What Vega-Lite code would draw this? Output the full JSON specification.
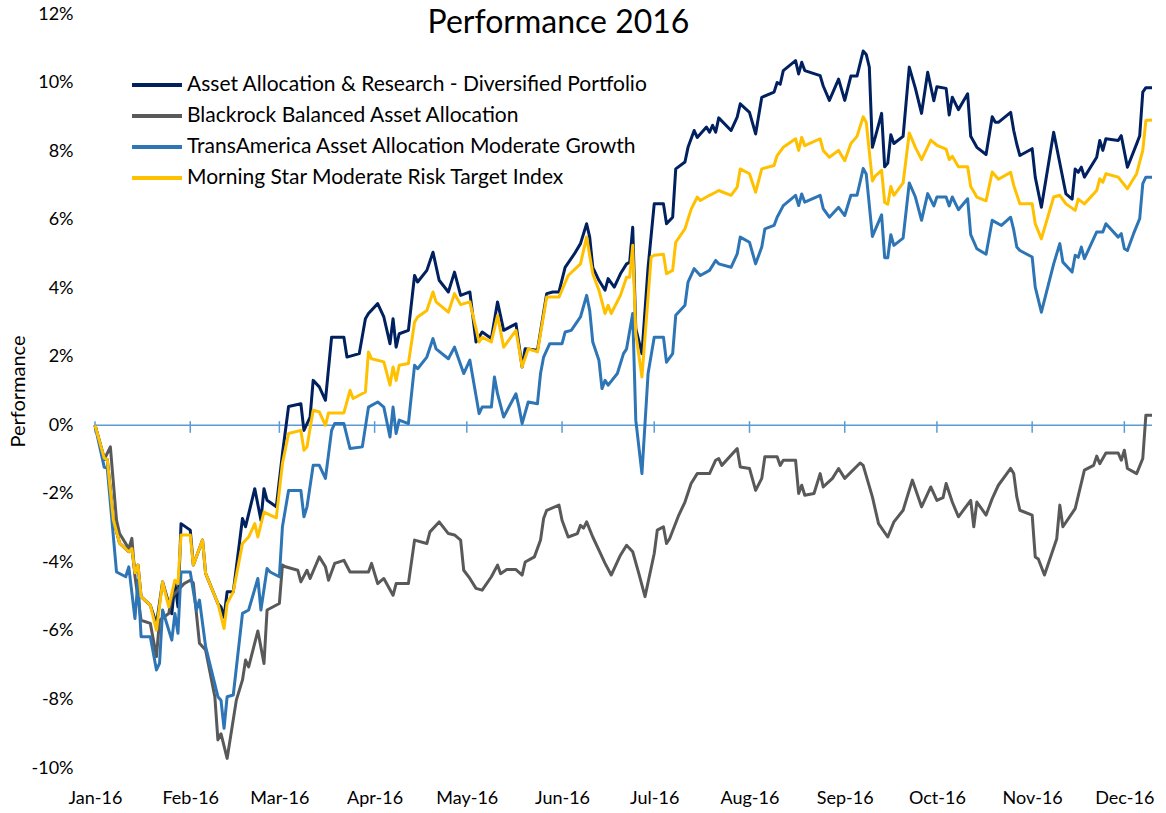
{
  "$schema": "https://vega.github.io/schema/vega-lite/v6.json",
  "width": 1057,
  "height": 754,
  "autosize": {"type": "none"},
  "padding": {"left": 95, "top": 14, "right": 14, "bottom": 45},
  "background": "white",
  "config": {"font": "Lato", "view": {"stroke": null}},
  "title": {"text": "Performance 2016", "fontSize": 32, "font": "Lato", "fontWeight": "normal", "color": "#000000", "anchor": "middle", "dx": -65, "offset": 0, "dy": 60, "baseline": "alphabetic"},
  "layer": [
    {
      "data": {"values": [{}]},
      "mark": {"type": "rule", "color": "#5B9BD5", "strokeWidth": 1.5},
      "encoding": {"y": {"datum": 0, "type": "quantitative"}}
    },
    {
      "data": {"values": [
        {"m": "2016-01-01"}, {"m": "2016-02-01"}, {"m": "2016-03-01"}, {"m": "2016-04-01"},
        {"m": "2016-05-01"}, {"m": "2016-06-01"}, {"m": "2016-07-01"}, {"m": "2016-08-01"},
        {"m": "2016-09-01"}, {"m": "2016-10-01"}, {"m": "2016-11-01"}, {"m": "2016-12-01"}
      ]},
      "mark": {"type": "rule", "color": "#5B9BD5", "strokeWidth": 1.5},
      "encoding": {
        "x": {"field": "m", "type": "temporal"},
        "y": {"datum": 0.12, "type": "quantitative"},
        "y2": {"datum": -0.22}
      }
    },
    {
      "data": {"values": [
{"s":"A","d":"2016-01-01","v":0},{"s":"A","d":"2016-01-04","v":-0.96},{"s":"A","d":"2016-01-05","v":-1.0},{"s":"A","d":"2016-01-07","v":-2.77},{"s":"A","d":"2016-01-09","v":-3.44},{"s":"A","d":"2016-01-12","v":-3.69},{"s":"A","d":"2016-01-13","v":-3.6},{"s":"A","d":"2016-01-14","v":-4.3},{"s":"A","d":"2016-01-15","v":-4.08},{"s":"A","d":"2016-01-16","v":-5.0},{"s":"A","d":"2016-01-19","v":-5.25},{"s":"A","d":"2016-01-21","v":-5.8},{"s":"A","d":"2016-01-23","v":-4.57},{"s":"A","d":"2016-01-25","v":-5.2},{"s":"A","d":"2016-01-26","v":-5.5},{"s":"A","d":"2016-01-27","v":-4.6},{"s":"A","d":"2016-01-28","v":-5.3},{"s":"A","d":"2016-01-29","v":-2.87},{"s":"A","d":"2016-02-01","v":-3.06},{"s":"A","d":"2016-02-02","v":-4.08},{"s":"A","d":"2016-02-05","v":-3.35},{"s":"A","d":"2016-02-06","v":-4.32},{"s":"A","d":"2016-02-10","v":-5.2},{"s":"A","d":"2016-02-11","v":-5.3},{"s":"A","d":"2016-02-12","v":-5.6},{"s":"A","d":"2016-02-13","v":-4.86},{"s":"A","d":"2016-02-15","v":-4.86},{"s":"A","d":"2016-02-18","v":-2.72},{"s":"A","d":"2016-02-19","v":-2.96},{"s":"A","d":"2016-02-22","v":-1.85},{"s":"A","d":"2016-02-24","v":-2.77},{"s":"A","d":"2016-02-25","v":-1.85},{"s":"A","d":"2016-02-26","v":-2.19},{"s":"A","d":"2016-02-29","v":-2.38},{"s":"A","d":"2016-03-02","v":-0.83},{"s":"A","d":"2016-03-04","v":0.55},{"s":"A","d":"2016-03-08","v":0.63},{"s":"A","d":"2016-03-09","v":-0.15},{"s":"A","d":"2016-03-11","v":0.24},{"s":"A","d":"2016-03-12","v":1.31},{"s":"A","d":"2016-03-14","v":1.12},{"s":"A","d":"2016-03-16","v":0.73},{"s":"A","d":"2016-03-18","v":2.57},{"s":"A","d":"2016-03-22","v":2.57},{"s":"A","d":"2016-03-23","v":1.99},{"s":"A","d":"2016-03-27","v":2.09},{"s":"A","d":"2016-03-29","v":3.11},{"s":"A","d":"2016-03-30","v":3.26},{"s":"A","d":"2016-04-02","v":3.55},{"s":"A","d":"2016-04-04","v":3.16},{"s":"A","d":"2016-04-06","v":2.38},{"s":"A","d":"2016-04-07","v":3.11},{"s":"A","d":"2016-04-08","v":2.28},{"s":"A","d":"2016-04-09","v":2.67},{"s":"A","d":"2016-04-12","v":2.77},{"s":"A","d":"2016-04-14","v":4.37},{"s":"A","d":"2016-04-15","v":4.18},{"s":"A","d":"2016-04-18","v":4.52},{"s":"A","d":"2016-04-20","v":5.05},{"s":"A","d":"2016-04-22","v":4.23},{"s":"A","d":"2016-04-25","v":3.89},{"s":"A","d":"2016-04-27","v":4.47},{"s":"A","d":"2016-04-29","v":3.79},{"s":"A","d":"2016-05-02","v":3.89},{"s":"A","d":"2016-05-04","v":2.43},{"s":"A","d":"2016-05-06","v":2.72},{"s":"A","d":"2016-05-09","v":2.53},{"s":"A","d":"2016-05-11","v":3.6},{"s":"A","d":"2016-05-13","v":2.77},{"s":"A","d":"2016-05-17","v":2.96},{"s":"A","d":"2016-05-19","v":1.7},{"s":"A","d":"2016-05-20","v":2.23},{"s":"A","d":"2016-05-24","v":2.19},{"s":"A","d":"2016-05-27","v":3.84},{"s":"A","d":"2016-05-29","v":3.89},{"s":"A","d":"2016-05-31","v":3.89},{"s":"A","d":"2016-06-02","v":4.61},{"s":"A","d":"2016-06-05","v":5.0},{"s":"A","d":"2016-06-07","v":5.3},{"s":"A","d":"2016-06-09","v":5.88},{"s":"A","d":"2016-06-10","v":5.49},{"s":"A","d":"2016-06-11","v":4.61},{"s":"A","d":"2016-06-13","v":4.23},{"s":"A","d":"2016-06-15","v":3.94},{"s":"A","d":"2016-06-16","v":4.28},{"s":"A","d":"2016-06-18","v":4.03},{"s":"A","d":"2016-06-20","v":4.42},{"s":"A","d":"2016-06-22","v":4.71},{"s":"A","d":"2016-06-23","v":4.75},{"s":"A","d":"2016-06-24","v":5.78},{"s":"A","d":"2016-06-25","v":2.82},{"s":"A","d":"2016-06-27","v":2.09},{"s":"A","d":"2016-06-29","v":4.61},{"s":"A","d":"2016-07-01","v":6.46},{"s":"A","d":"2016-07-04","v":6.46},{"s":"A","d":"2016-07-05","v":5.88},{"s":"A","d":"2016-07-07","v":6.07},{"s":"A","d":"2016-07-08","v":7.48},{"s":"A","d":"2016-07-11","v":7.68},{"s":"A","d":"2016-07-12","v":8.11},{"s":"A","d":"2016-07-14","v":8.6},{"s":"A","d":"2016-07-15","v":8.4},{"s":"A","d":"2016-07-18","v":8.7},{"s":"A","d":"2016-07-19","v":8.55},{"s":"A","d":"2016-07-20","v":8.75},{"s":"A","d":"2016-07-21","v":8.55},{"s":"A","d":"2016-07-22","v":8.97},{"s":"A","d":"2016-07-26","v":8.6},{"s":"A","d":"2016-07-28","v":8.99},{"s":"A","d":"2016-07-29","v":9.38},{"s":"A","d":"2016-08-01","v":9.13},{"s":"A","d":"2016-08-03","v":8.5},{"s":"A","d":"2016-08-05","v":9.57},{"s":"A","d":"2016-08-09","v":9.72},{"s":"A","d":"2016-08-10","v":10.0},{"s":"A","d":"2016-08-11","v":9.95},{"s":"A","d":"2016-08-12","v":10.35},{"s":"A","d":"2016-08-16","v":10.64},{"s":"A","d":"2016-08-17","v":10.25},{"s":"A","d":"2016-08-18","v":10.59},{"s":"A","d":"2016-08-19","v":10.35},{"s":"A","d":"2016-08-24","v":10.2},{"s":"A","d":"2016-08-25","v":9.9},{"s":"A","d":"2016-08-27","v":9.48},{"s":"A","d":"2016-08-30","v":10.1},{"s":"A","d":"2016-09-01","v":9.48},{"s":"A","d":"2016-09-03","v":10.19},{"s":"A","d":"2016-09-05","v":10.19},{"s":"A","d":"2016-09-07","v":10.92},{"s":"A","d":"2016-09-08","v":10.82},{"s":"A","d":"2016-09-09","v":10.45},{"s":"A","d":"2016-09-10","v":8.11},{"s":"A","d":"2016-09-11","v":8.43},{"s":"A","d":"2016-09-13","v":9.1},{"s":"A","d":"2016-09-14","v":7.54},{"s":"A","d":"2016-09-15","v":7.65},{"s":"A","d":"2016-09-16","v":8.48},{"s":"A","d":"2016-09-17","v":8.22},{"s":"A","d":"2016-09-20","v":8.43},{"s":"A","d":"2016-09-22","v":10.45},{"s":"A","d":"2016-09-24","v":9.83},{"s":"A","d":"2016-09-26","v":9.1},{"s":"A","d":"2016-09-28","v":10.3},{"s":"A","d":"2016-09-30","v":9.47},{"s":"A","d":"2016-10-01","v":9.88},{"s":"A","d":"2016-10-04","v":9.83},{"s":"A","d":"2016-10-05","v":9.05},{"s":"A","d":"2016-10-06","v":9.57},{"s":"A","d":"2016-10-08","v":9.21},{"s":"A","d":"2016-10-11","v":9.67},{"s":"A","d":"2016-10-12","v":8.43},{"s":"A","d":"2016-10-14","v":8.11},{"s":"A","d":"2016-10-17","v":7.9},{"s":"A","d":"2016-10-19","v":9.0},{"s":"A","d":"2016-10-20","v":8.84},{"s":"A","d":"2016-10-21","v":8.84},{"s":"A","d":"2016-10-25","v":9.13},{"s":"A","d":"2016-10-26","v":8.6},{"s":"A","d":"2016-10-27","v":8.2},{"s":"A","d":"2016-10-28","v":7.87},{"s":"A","d":"2016-11-01","v":8.07},{"s":"A","d":"2016-11-02","v":7.24},{"s":"A","d":"2016-11-04","v":6.36},{"s":"A","d":"2016-11-08","v":8.55},{"s":"A","d":"2016-11-12","v":6.75},{"s":"A","d":"2016-11-14","v":6.6},{"s":"A","d":"2016-11-15","v":7.48},{"s":"A","d":"2016-11-16","v":7.38},{"s":"A","d":"2016-11-17","v":7.53},{"s":"A","d":"2016-11-18","v":7.24},{"s":"A","d":"2016-11-22","v":7.82},{"s":"A","d":"2016-11-23","v":8.31},{"s":"A","d":"2016-11-24","v":8.02},{"s":"A","d":"2016-11-25","v":8.36},{"s":"A","d":"2016-11-29","v":8.31},{"s":"A","d":"2016-11-30","v":8.45},{"s":"A","d":"2016-12-02","v":7.53},{"s":"A","d":"2016-12-05","v":8.21},{"s":"A","d":"2016-12-06","v":8.45},{"s":"A","d":"2016-12-07","v":9.72},{"s":"A","d":"2016-12-08","v":9.85},{"s":"A","d":"2016-12-10","v":9.85},
{"s":"B","d":"2016-01-01","v":0},{"s":"B","d":"2016-01-04","v":-1.0},{"s":"B","d":"2016-01-06","v":-0.63},{"s":"B","d":"2016-01-08","v":-2.77},{"s":"B","d":"2016-01-09","v":-3.16},{"s":"B","d":"2016-01-12","v":-3.6},{"s":"B","d":"2016-01-13","v":-3.3},{"s":"B","d":"2016-01-14","v":-4.4},{"s":"B","d":"2016-01-16","v":-5.69},{"s":"B","d":"2016-01-19","v":-5.78},{"s":"B","d":"2016-01-21","v":-6.75},{"s":"B","d":"2016-01-22","v":-5.69},{"s":"B","d":"2016-01-25","v":-5.49},{"s":"B","d":"2016-01-26","v":-5.0},{"s":"B","d":"2016-01-28","v":-4.81},{"s":"B","d":"2016-01-30","v":-4.62},{"s":"B","d":"2016-02-01","v":-4.52},{"s":"B","d":"2016-02-02","v":-4.6},{"s":"B","d":"2016-02-03","v":-5.49},{"s":"B","d":"2016-02-04","v":-6.36},{"s":"B","d":"2016-02-06","v":-6.56},{"s":"B","d":"2016-02-09","v":-7.92},{"s":"B","d":"2016-02-10","v":-9.18},{"s":"B","d":"2016-02-11","v":-9.0},{"s":"B","d":"2016-02-13","v":-9.72},{"s":"B","d":"2016-02-16","v":-8.02},{"s":"B","d":"2016-02-18","v":-7.43},{"s":"B","d":"2016-02-19","v":-6.85},{"s":"B","d":"2016-02-20","v":-7.05},{"s":"B","d":"2016-02-23","v":-6.0},{"s":"B","d":"2016-02-25","v":-6.95},{"s":"B","d":"2016-02-26","v":-5.39},{"s":"B","d":"2016-03-01","v":-5.2},{"s":"B","d":"2016-03-02","v":-4.08},{"s":"B","d":"2016-03-03","v":-4.13},{"s":"B","d":"2016-03-07","v":-4.23},{"s":"B","d":"2016-03-08","v":-4.57},{"s":"B","d":"2016-03-10","v":-4.23},{"s":"B","d":"2016-03-11","v":-4.47},{"s":"B","d":"2016-03-14","v":-3.84},{"s":"B","d":"2016-03-16","v":-4.13},{"s":"B","d":"2016-03-17","v":-4.52},{"s":"B","d":"2016-03-19","v":-4.03},{"s":"B","d":"2016-03-22","v":-3.94},{"s":"B","d":"2016-03-24","v":-4.28},{"s":"B","d":"2016-03-30","v":-4.28},{"s":"B","d":"2016-03-31","v":-4.03},{"s":"B","d":"2016-04-02","v":-4.62},{"s":"B","d":"2016-04-04","v":-4.47},{"s":"B","d":"2016-04-07","v":-4.96},{"s":"B","d":"2016-04-08","v":-4.62},{"s":"B","d":"2016-04-12","v":-4.62},{"s":"B","d":"2016-04-14","v":-3.35},{"s":"B","d":"2016-04-18","v":-3.45},{"s":"B","d":"2016-04-19","v":-3.11},{"s":"B","d":"2016-04-22","v":-2.82},{"s":"B","d":"2016-04-25","v":-3.16},{"s":"B","d":"2016-04-27","v":-3.2},{"s":"B","d":"2016-04-29","v":-3.35},{"s":"B","d":"2016-04-30","v":-4.23},{"s":"B","d":"2016-05-02","v":-4.47},{"s":"B","d":"2016-05-04","v":-4.76},{"s":"B","d":"2016-05-06","v":-4.81},{"s":"B","d":"2016-05-09","v":-4.42},{"s":"B","d":"2016-05-11","v":-4.08},{"s":"B","d":"2016-05-12","v":-4.33},{"s":"B","d":"2016-05-14","v":-4.21},{"s":"B","d":"2016-05-17","v":-4.21},{"s":"B","d":"2016-05-19","v":-4.37},{"s":"B","d":"2016-05-20","v":-3.99},{"s":"B","d":"2016-05-23","v":-3.84},{"s":"B","d":"2016-05-25","v":-3.35},{"s":"B","d":"2016-05-26","v":-2.72},{"s":"B","d":"2016-05-27","v":-2.48},{"s":"B","d":"2016-05-31","v":-2.33},{"s":"B","d":"2016-06-01","v":-2.77},{"s":"B","d":"2016-06-03","v":-3.26},{"s":"B","d":"2016-06-06","v":-3.16},{"s":"B","d":"2016-06-07","v":-2.92},{"s":"B","d":"2016-06-08","v":-3.0},{"s":"B","d":"2016-06-09","v":-2.82},{"s":"B","d":"2016-06-11","v":-3.26},{"s":"B","d":"2016-06-13","v":-3.64},{"s":"B","d":"2016-06-15","v":-4.03},{"s":"B","d":"2016-06-17","v":-4.37},{"s":"B","d":"2016-06-20","v":-3.79},{"s":"B","d":"2016-06-22","v":-3.5},{"s":"B","d":"2016-06-24","v":-3.69},{"s":"B","d":"2016-06-26","v":-4.33},{"s":"B","d":"2016-06-28","v":-5.0},{"s":"B","d":"2016-07-01","v":-3.74},{"s":"B","d":"2016-07-02","v":-3.06},{"s":"B","d":"2016-07-04","v":-2.96},{"s":"B","d":"2016-07-05","v":-3.45},{"s":"B","d":"2016-07-06","v":-3.31},{"s":"B","d":"2016-07-09","v":-2.62},{"s":"B","d":"2016-07-11","v":-2.24},{"s":"B","d":"2016-07-13","v":-1.7},{"s":"B","d":"2016-07-15","v":-1.41},{"s":"B","d":"2016-07-19","v":-1.41},{"s":"B","d":"2016-07-21","v":-1.02},{"s":"B","d":"2016-07-22","v":-0.97},{"s":"B","d":"2016-07-23","v":-1.17},{"s":"B","d":"2016-07-28","v":-0.68},{"s":"B","d":"2016-07-29","v":-1.22},{"s":"B","d":"2016-08-01","v":-1.26},{"s":"B","d":"2016-08-03","v":-1.9},{"s":"B","d":"2016-08-05","v":-1.55},{"s":"B","d":"2016-08-06","v":-0.92},{"s":"B","d":"2016-08-10","v":-0.92},{"s":"B","d":"2016-08-11","v":-1.17},{"s":"B","d":"2016-08-12","v":-1.02},{"s":"B","d":"2016-08-16","v":-1.02},{"s":"B","d":"2016-08-17","v":-1.99},{"s":"B","d":"2016-08-18","v":-1.75},{"s":"B","d":"2016-08-19","v":-2.04},{"s":"B","d":"2016-08-22","v":-1.99},{"s":"B","d":"2016-08-24","v":-1.41},{"s":"B","d":"2016-08-25","v":-1.8},{"s":"B","d":"2016-08-28","v":-1.55},{"s":"B","d":"2016-08-30","v":-1.26},{"s":"B","d":"2016-09-01","v":-1.55},{"s":"B","d":"2016-09-06","v":-1.1},{"s":"B","d":"2016-09-07","v":-1.17},{"s":"B","d":"2016-09-10","v":-2.09},{"s":"B","d":"2016-09-12","v":-2.87},{"s":"B","d":"2016-09-15","v":-3.26},{"s":"B","d":"2016-09-17","v":-2.82},{"s":"B","d":"2016-09-20","v":-2.48},{"s":"B","d":"2016-09-23","v":-1.6},{"s":"B","d":"2016-09-26","v":-2.38},{"s":"B","d":"2016-09-29","v":-1.8},{"s":"B","d":"2016-10-01","v":-2.19},{"s":"B","d":"2016-10-03","v":-2.11},{"s":"B","d":"2016-10-04","v":-1.7},{"s":"B","d":"2016-10-06","v":-2.24},{"s":"B","d":"2016-10-08","v":-2.67},{"s":"B","d":"2016-10-12","v":-2.19},{"s":"B","d":"2016-10-13","v":-2.96},{"s":"B","d":"2016-10-14","v":-2.24},{"s":"B","d":"2016-10-17","v":-2.62},{"s":"B","d":"2016-10-19","v":-2.14},{"s":"B","d":"2016-10-21","v":-1.75},{"s":"B","d":"2016-10-25","v":-1.26},{"s":"B","d":"2016-10-26","v":-1.41},{"s":"B","d":"2016-10-27","v":-2.09},{"s":"B","d":"2016-10-28","v":-2.48},{"s":"B","d":"2016-11-01","v":-2.62},{"s":"B","d":"2016-11-02","v":-3.84},{"s":"B","d":"2016-11-03","v":-3.9},{"s":"B","d":"2016-11-05","v":-4.37},{"s":"B","d":"2016-11-09","v":-3.31},{"s":"B","d":"2016-11-10","v":-2.33},{"s":"B","d":"2016-11-11","v":-2.96},{"s":"B","d":"2016-11-15","v":-2.43},{"s":"B","d":"2016-11-18","v":-1.31},{"s":"B","d":"2016-11-21","v":-1.17},{"s":"B","d":"2016-11-22","v":-0.9},{"s":"B","d":"2016-11-23","v":-1.12},{"s":"B","d":"2016-11-25","v":-0.81},{"s":"B","d":"2016-11-29","v":-0.81},{"s":"B","d":"2016-11-30","v":-1.02},{"s":"B","d":"2016-12-01","v":-0.73},{"s":"B","d":"2016-12-02","v":-1.26},{"s":"B","d":"2016-12-05","v":-1.41},{"s":"B","d":"2016-12-07","v":-0.97},{"s":"B","d":"2016-12-08","v":0.29},{"s":"B","d":"2016-12-10","v":0.29},
{"s":"C","d":"2016-01-01","v":0},{"s":"C","d":"2016-01-04","v":-1.22},{"s":"C","d":"2016-01-05","v":-1.26},{"s":"C","d":"2016-01-08","v":-4.28},{"s":"C","d":"2016-01-11","v":-4.42},{"s":"C","d":"2016-01-12","v":-4.13},{"s":"C","d":"2016-01-14","v":-5.64},{"s":"C","d":"2016-01-15","v":-4.52},{"s":"C","d":"2016-01-16","v":-6.17},{"s":"C","d":"2016-01-19","v":-6.17},{"s":"C","d":"2016-01-21","v":-7.14},{"s":"C","d":"2016-01-22","v":-6.95},{"s":"C","d":"2016-01-23","v":-5.39},{"s":"C","d":"2016-01-26","v":-6.27},{"s":"C","d":"2016-01-27","v":-5.49},{"s":"C","d":"2016-01-28","v":-6.07},{"s":"C","d":"2016-01-29","v":-4.28},{"s":"C","d":"2016-02-01","v":-4.28},{"s":"C","d":"2016-02-03","v":-5.39},{"s":"C","d":"2016-02-04","v":-5.1},{"s":"C","d":"2016-02-06","v":-6.46},{"s":"C","d":"2016-02-10","v":-7.92},{"s":"C","d":"2016-02-11","v":-8.02},{"s":"C","d":"2016-02-12","v":-8.84},{"s":"C","d":"2016-02-13","v":-7.92},{"s":"C","d":"2016-02-15","v":-7.87},{"s":"C","d":"2016-02-18","v":-5.49},{"s":"C","d":"2016-02-20","v":-5.39},{"s":"C","d":"2016-02-23","v":-4.47},{"s":"C","d":"2016-02-24","v":-5.39},{"s":"C","d":"2016-02-26","v":-4.18},{"s":"C","d":"2016-02-27","v":-4.28},{"s":"C","d":"2016-03-01","v":-4.42},{"s":"C","d":"2016-03-02","v":-2.96},{"s":"C","d":"2016-03-04","v":-1.9},{"s":"C","d":"2016-03-08","v":-1.9},{"s":"C","d":"2016-03-09","v":-2.67},{"s":"C","d":"2016-03-10","v":-2.38},{"s":"C","d":"2016-03-12","v":-1.17},{"s":"C","d":"2016-03-14","v":-1.17},{"s":"C","d":"2016-03-16","v":-1.55},{"s":"C","d":"2016-03-18","v":-0.15},{"s":"C","d":"2016-03-19","v":0.05},{"s":"C","d":"2016-03-22","v":0.05},{"s":"C","d":"2016-03-24","v":-0.68},{"s":"C","d":"2016-03-28","v":-0.63},{"s":"C","d":"2016-03-30","v":0.53},{"s":"C","d":"2016-04-02","v":0.68},{"s":"C","d":"2016-04-04","v":0.53},{"s":"C","d":"2016-04-06","v":-0.34},{"s":"C","d":"2016-04-07","v":0.53},{"s":"C","d":"2016-04-08","v":-0.24},{"s":"C","d":"2016-04-09","v":0.15},{"s":"C","d":"2016-04-12","v":0.05},{"s":"C","d":"2016-04-14","v":1.75},{"s":"C","d":"2016-04-15","v":1.65},{"s":"C","d":"2016-04-18","v":1.99},{"s":"C","d":"2016-04-20","v":2.53},{"s":"C","d":"2016-04-21","v":2.23},{"s":"C","d":"2016-04-25","v":1.94},{"s":"C","d":"2016-04-27","v":2.28},{"s":"C","d":"2016-04-30","v":1.51},{"s":"C","d":"2016-05-02","v":1.9},{"s":"C","d":"2016-05-05","v":0.34},{"s":"C","d":"2016-05-06","v":0.53},{"s":"C","d":"2016-05-09","v":0.53},{"s":"C","d":"2016-05-10","v":1.41},{"s":"C","d":"2016-05-11","v":0.92},{"s":"C","d":"2016-05-13","v":0.24},{"s":"C","d":"2016-05-17","v":0.92},{"s":"C","d":"2016-05-18","v":0.53},{"s":"C","d":"2016-05-19","v":0.05},{"s":"C","d":"2016-05-21","v":0.68},{"s":"C","d":"2016-05-24","v":0.63},{"s":"C","d":"2016-05-25","v":1.51},{"s":"C","d":"2016-05-26","v":1.99},{"s":"C","d":"2016-05-28","v":2.38},{"s":"C","d":"2016-06-01","v":2.38},{"s":"C","d":"2016-06-02","v":2.72},{"s":"C","d":"2016-06-04","v":2.77},{"s":"C","d":"2016-06-07","v":3.16},{"s":"C","d":"2016-06-09","v":3.79},{"s":"C","d":"2016-06-10","v":3.35},{"s":"C","d":"2016-06-11","v":2.43},{"s":"C","d":"2016-06-13","v":1.9},{"s":"C","d":"2016-06-14","v":1.07},{"s":"C","d":"2016-06-15","v":1.31},{"s":"C","d":"2016-06-16","v":1.17},{"s":"C","d":"2016-06-19","v":1.51},{"s":"C","d":"2016-06-21","v":2.09},{"s":"C","d":"2016-06-22","v":2.23},{"s":"C","d":"2016-06-24","v":3.26},{"s":"C","d":"2016-06-25","v":0.15},{"s":"C","d":"2016-06-27","v":-1.41},{"s":"C","d":"2016-06-29","v":1.51},{"s":"C","d":"2016-07-01","v":2.57},{"s":"C","d":"2016-07-04","v":2.57},{"s":"C","d":"2016-07-05","v":1.84},{"s":"C","d":"2016-07-07","v":2.09},{"s":"C","d":"2016-07-08","v":3.21},{"s":"C","d":"2016-07-11","v":3.5},{"s":"C","d":"2016-07-12","v":4.18},{"s":"C","d":"2016-07-14","v":4.57},{"s":"C","d":"2016-07-16","v":4.37},{"s":"C","d":"2016-07-19","v":4.52},{"s":"C","d":"2016-07-21","v":4.81},{"s":"C","d":"2016-07-22","v":4.71},{"s":"C","d":"2016-07-26","v":4.61},{"s":"C","d":"2016-07-28","v":5.0},{"s":"C","d":"2016-07-29","v":5.49},{"s":"C","d":"2016-08-01","v":5.34},{"s":"C","d":"2016-08-03","v":4.71},{"s":"C","d":"2016-08-05","v":5.2},{"s":"C","d":"2016-08-06","v":5.73},{"s":"C","d":"2016-08-09","v":5.83},{"s":"C","d":"2016-08-10","v":6.07},{"s":"C","d":"2016-08-12","v":6.41},{"s":"C","d":"2016-08-16","v":6.71},{"s":"C","d":"2016-08-17","v":6.41},{"s":"C","d":"2016-08-18","v":6.75},{"s":"C","d":"2016-08-19","v":6.51},{"s":"C","d":"2016-08-24","v":6.71},{"s":"C","d":"2016-08-25","v":6.32},{"s":"C","d":"2016-08-27","v":6.07},{"s":"C","d":"2016-08-30","v":6.36},{"s":"C","d":"2016-09-01","v":6.12},{"s":"C","d":"2016-09-03","v":6.71},{"s":"C","d":"2016-09-05","v":6.71},{"s":"C","d":"2016-09-07","v":7.49},{"s":"C","d":"2016-09-08","v":7.33},{"s":"C","d":"2016-09-10","v":5.51},{"s":"C","d":"2016-09-13","v":6.14},{"s":"C","d":"2016-09-14","v":4.89},{"s":"C","d":"2016-09-15","v":4.89},{"s":"C","d":"2016-09-16","v":5.56},{"s":"C","d":"2016-09-17","v":5.25},{"s":"C","d":"2016-09-20","v":5.46},{"s":"C","d":"2016-09-22","v":7.07},{"s":"C","d":"2016-09-24","v":6.66},{"s":"C","d":"2016-09-26","v":5.98},{"s":"C","d":"2016-09-28","v":6.76},{"s":"C","d":"2016-09-30","v":6.4},{"s":"C","d":"2016-10-01","v":6.66},{"s":"C","d":"2016-10-04","v":6.66},{"s":"C","d":"2016-10-05","v":6.4},{"s":"C","d":"2016-10-06","v":6.66},{"s":"C","d":"2016-10-08","v":6.29},{"s":"C","d":"2016-10-11","v":6.61},{"s":"C","d":"2016-10-12","v":5.56},{"s":"C","d":"2016-10-14","v":5.15},{"s":"C","d":"2016-10-17","v":4.99},{"s":"C","d":"2016-10-19","v":5.98},{"s":"C","d":"2016-10-22","v":5.83},{"s":"C","d":"2016-10-25","v":6.07},{"s":"C","d":"2016-10-26","v":5.7},{"s":"C","d":"2016-10-27","v":5.2},{"s":"C","d":"2016-10-28","v":5.1},{"s":"C","d":"2016-11-01","v":4.91},{"s":"C","d":"2016-11-02","v":4.03},{"s":"C","d":"2016-11-04","v":3.3},{"s":"C","d":"2016-11-08","v":4.71},{"s":"C","d":"2016-11-10","v":5.3},{"s":"C","d":"2016-11-11","v":4.76},{"s":"C","d":"2016-11-14","v":4.47},{"s":"C","d":"2016-11-15","v":4.96},{"s":"C","d":"2016-11-16","v":4.9},{"s":"C","d":"2016-11-17","v":5.2},{"s":"C","d":"2016-11-18","v":4.86},{"s":"C","d":"2016-11-22","v":5.64},{"s":"C","d":"2016-11-24","v":5.64},{"s":"C","d":"2016-11-25","v":5.88},{"s":"C","d":"2016-11-29","v":5.49},{"s":"C","d":"2016-11-30","v":5.59},{"s":"C","d":"2016-12-01","v":5.15},{"s":"C","d":"2016-12-02","v":5.1},{"s":"C","d":"2016-12-04","v":5.59},{"s":"C","d":"2016-12-06","v":6.03},{"s":"C","d":"2016-12-07","v":7.05},{"s":"C","d":"2016-12-08","v":7.24},{"s":"C","d":"2016-12-10","v":7.24},
{"s":"D","d":"2016-01-01","v":0},{"s":"D","d":"2016-01-04","v":-0.96},{"s":"D","d":"2016-01-05","v":-1.0},{"s":"D","d":"2016-01-07","v":-2.77},{"s":"D","d":"2016-01-09","v":-3.44},{"s":"D","d":"2016-01-12","v":-3.69},{"s":"D","d":"2016-01-13","v":-3.6},{"s":"D","d":"2016-01-14","v":-4.3},{"s":"D","d":"2016-01-15","v":-4.08},{"s":"D","d":"2016-01-16","v":-5.0},{"s":"D","d":"2016-01-19","v":-5.25},{"s":"D","d":"2016-01-21","v":-5.98},{"s":"D","d":"2016-01-23","v":-4.57},{"s":"D","d":"2016-01-25","v":-5.3},{"s":"D","d":"2016-01-27","v":-4.52},{"s":"D","d":"2016-01-28","v":-4.62},{"s":"D","d":"2016-01-29","v":-3.2},{"s":"D","d":"2016-02-01","v":-3.2},{"s":"D","d":"2016-02-02","v":-4.08},{"s":"D","d":"2016-02-05","v":-3.35},{"s":"D","d":"2016-02-06","v":-4.32},{"s":"D","d":"2016-02-10","v":-5.2},{"s":"D","d":"2016-02-12","v":-5.93},{"s":"D","d":"2016-02-13","v":-5.2},{"s":"D","d":"2016-02-15","v":-4.86},{"s":"D","d":"2016-02-18","v":-3.45},{"s":"D","d":"2016-02-20","v":-3.26},{"s":"D","d":"2016-02-22","v":-2.87},{"s":"D","d":"2016-02-23","v":-3.26},{"s":"D","d":"2016-02-25","v":-2.53},{"s":"D","d":"2016-02-27","v":-2.62},{"s":"D","d":"2016-02-29","v":-2.7},{"s":"D","d":"2016-03-02","v":-1.12},{"s":"D","d":"2016-03-04","v":-0.24},{"s":"D","d":"2016-03-08","v":-0.15},{"s":"D","d":"2016-03-09","v":-0.73},{"s":"D","d":"2016-03-10","v":-0.63},{"s":"D","d":"2016-03-12","v":0.44},{"s":"D","d":"2016-03-14","v":0.39},{"s":"D","d":"2016-03-16","v":0.0},{"s":"D","d":"2016-03-17","v":0.36},{"s":"D","d":"2016-03-22","v":0.36},{"s":"D","d":"2016-03-24","v":1.02},{"s":"D","d":"2016-03-25","v":0.78},{"s":"D","d":"2016-03-29","v":0.97},{"s":"D","d":"2016-03-30","v":2.14},{"s":"D","d":"2016-03-31","v":1.94},{"s":"D","d":"2016-04-04","v":1.85},{"s":"D","d":"2016-04-06","v":1.17},{"s":"D","d":"2016-04-07","v":1.7},{"s":"D","d":"2016-04-08","v":1.31},{"s":"D","d":"2016-04-09","v":1.75},{"s":"D","d":"2016-04-12","v":1.8},{"s":"D","d":"2016-04-14","v":3.01},{"s":"D","d":"2016-04-15","v":3.16},{"s":"D","d":"2016-04-18","v":3.35},{"s":"D","d":"2016-04-20","v":3.89},{"s":"D","d":"2016-04-21","v":3.6},{"s":"D","d":"2016-04-25","v":3.3},{"s":"D","d":"2016-04-27","v":3.84},{"s":"D","d":"2016-04-29","v":3.52},{"s":"D","d":"2016-05-02","v":3.6},{"s":"D","d":"2016-05-05","v":2.43},{"s":"D","d":"2016-05-06","v":2.57},{"s":"D","d":"2016-05-09","v":2.43},{"s":"D","d":"2016-05-11","v":3.2},{"s":"D","d":"2016-05-13","v":2.28},{"s":"D","d":"2016-05-17","v":2.77},{"s":"D","d":"2016-05-19","v":1.7},{"s":"D","d":"2016-05-21","v":2.23},{"s":"D","d":"2016-05-24","v":2.14},{"s":"D","d":"2016-05-27","v":3.74},{"s":"D","d":"2016-05-31","v":3.74},{"s":"D","d":"2016-06-03","v":4.37},{"s":"D","d":"2016-06-07","v":4.71},{"s":"D","d":"2016-06-09","v":5.49},{"s":"D","d":"2016-06-11","v":4.42},{"s":"D","d":"2016-06-13","v":3.94},{"s":"D","d":"2016-06-15","v":3.26},{"s":"D","d":"2016-06-16","v":3.5},{"s":"D","d":"2016-06-17","v":3.26},{"s":"D","d":"2016-06-20","v":3.79},{"s":"D","d":"2016-06-22","v":4.32},{"s":"D","d":"2016-06-23","v":4.32},{"s":"D","d":"2016-06-24","v":5.25},{"s":"D","d":"2016-06-25","v":2.67},{"s":"D","d":"2016-06-27","v":1.41},{"s":"D","d":"2016-06-30","v":4.91},{"s":"D","d":"2016-07-01","v":4.96},{"s":"D","d":"2016-07-04","v":4.99},{"s":"D","d":"2016-07-05","v":4.42},{"s":"D","d":"2016-07-07","v":4.52},{"s":"D","d":"2016-07-08","v":5.34},{"s":"D","d":"2016-07-11","v":5.73},{"s":"D","d":"2016-07-13","v":6.3},{"s":"D","d":"2016-07-15","v":6.66},{"s":"D","d":"2016-07-16","v":6.56},{"s":"D","d":"2016-07-19","v":6.71},{"s":"D","d":"2016-07-21","v":6.8},{"s":"D","d":"2016-07-22","v":6.85},{"s":"D","d":"2016-07-26","v":6.71},{"s":"D","d":"2016-07-28","v":6.95},{"s":"D","d":"2016-07-29","v":7.48},{"s":"D","d":"2016-08-01","v":7.34},{"s":"D","d":"2016-08-03","v":6.8},{"s":"D","d":"2016-08-05","v":7.48},{"s":"D","d":"2016-08-09","v":7.58},{"s":"D","d":"2016-08-10","v":7.87},{"s":"D","d":"2016-08-12","v":8.11},{"s":"D","d":"2016-08-16","v":8.36},{"s":"D","d":"2016-08-17","v":8.02},{"s":"D","d":"2016-08-18","v":8.4},{"s":"D","d":"2016-08-19","v":8.16},{"s":"D","d":"2016-08-24","v":8.36},{"s":"D","d":"2016-08-25","v":8.02},{"s":"D","d":"2016-08-27","v":7.82},{"s":"D","d":"2016-08-30","v":8.02},{"s":"D","d":"2016-09-01","v":7.72},{"s":"D","d":"2016-09-03","v":8.22},{"s":"D","d":"2016-09-05","v":8.43},{"s":"D","d":"2016-09-07","v":9.0},{"s":"D","d":"2016-09-08","v":8.84},{"s":"D","d":"2016-09-10","v":7.13},{"s":"D","d":"2016-09-11","v":7.28},{"s":"D","d":"2016-09-13","v":7.44},{"s":"D","d":"2016-09-14","v":6.5},{"s":"D","d":"2016-09-15","v":6.45},{"s":"D","d":"2016-09-16","v":6.97},{"s":"D","d":"2016-09-17","v":6.71},{"s":"D","d":"2016-09-20","v":7.07},{"s":"D","d":"2016-09-22","v":8.53},{"s":"D","d":"2016-09-24","v":8.11},{"s":"D","d":"2016-09-26","v":7.75},{"s":"D","d":"2016-09-29","v":8.32},{"s":"D","d":"2016-10-01","v":8.17},{"s":"D","d":"2016-10-04","v":8.06},{"s":"D","d":"2016-10-05","v":7.75},{"s":"D","d":"2016-10-06","v":7.85},{"s":"D","d":"2016-10-08","v":7.54},{"s":"D","d":"2016-10-11","v":7.54},{"s":"D","d":"2016-10-12","v":6.97},{"s":"D","d":"2016-10-14","v":6.66},{"s":"D","d":"2016-10-17","v":6.55},{"s":"D","d":"2016-10-19","v":7.39},{"s":"D","d":"2016-10-21","v":7.18},{"s":"D","d":"2016-10-25","v":7.38},{"s":"D","d":"2016-10-26","v":7.0},{"s":"D","d":"2016-10-28","v":6.46},{"s":"D","d":"2016-11-01","v":6.46},{"s":"D","d":"2016-11-02","v":5.88},{"s":"D","d":"2016-11-04","v":5.44},{"s":"D","d":"2016-11-08","v":6.66},{"s":"D","d":"2016-11-10","v":6.71},{"s":"D","d":"2016-11-12","v":6.46},{"s":"D","d":"2016-11-15","v":6.27},{"s":"D","d":"2016-11-16","v":6.6},{"s":"D","d":"2016-11-18","v":6.46},{"s":"D","d":"2016-11-22","v":6.85},{"s":"D","d":"2016-11-23","v":7.19},{"s":"D","d":"2016-11-24","v":7.09},{"s":"D","d":"2016-11-25","v":7.34},{"s":"D","d":"2016-11-29","v":7.24},{"s":"D","d":"2016-12-02","v":6.9},{"s":"D","d":"2016-12-05","v":7.34},{"s":"D","d":"2016-12-07","v":8.02},{"s":"D","d":"2016-12-08","v":8.89},{"s":"D","d":"2016-12-10","v":8.91}
      ]},
      "mark": {"type": "line", "strokeWidth": 3, "strokeJoin": "round"},
      "encoding": {
        "x": {"field": "d", "type": "temporal"},
        "y": {"field": "v", "type": "quantitative"},
        "color": {
          "field": "s", "type": "nominal",
          "scale": {"domain": ["A", "B", "C", "D"], "range": ["#002060", "#595959", "#2E75B6", "#FFC000"]},
          "legend": {
            "orient": "none", "legendX": 41.5, "legendY": 50.5, "title": null,
            "symbolType": "M-1.35,0H1.35", "symbolSize": 1369, "symbolStrokeWidth": 4,
            "labelFont": "Lato", "labelFontSize": 21, "labelColor": "#000000", "labelLimit": 0,
            "labelOffset": 9.5, "rowPadding": 0, "padding": 0,
            "labelExpr": "{'A': 'Asset Allocation & Research - Diversified Portfolio', 'B': 'Blackrock Balanced Asset Allocation', 'C': 'TransAmerica Asset Allocation Moderate Growth', 'D': 'Morning Star Moderate Risk Target Index'}[datum.label]"
          }
        }
      }
    }
  ],
  "encoding": {
    "x": {
      "type": "temporal",
      "scale": {"type": "utc", "domain": [{"year": 2016, "month": 1, "date": 1, "utc": true}, {"year": 2016, "month": 12, "date": 10, "utc": true}], "nice": false},
      "axis": {
        "title": null, "format": "%b-%y", "grid": false, "domain": false, "ticks": false,
        "values": [
          {"year": 2016, "month": 1, "date": 1, "utc": true}, {"year": 2016, "month": 2, "date": 1, "utc": true},
          {"year": 2016, "month": 3, "date": 1, "utc": true}, {"year": 2016, "month": 4, "date": 1, "utc": true},
          {"year": 2016, "month": 5, "date": 1, "utc": true}, {"year": 2016, "month": 6, "date": 1, "utc": true},
          {"year": 2016, "month": 7, "date": 1, "utc": true}, {"year": 2016, "month": 8, "date": 1, "utc": true},
          {"year": 2016, "month": 9, "date": 1, "utc": true}, {"year": 2016, "month": 10, "date": 1, "utc": true},
          {"year": 2016, "month": 11, "date": 1, "utc": true}, {"year": 2016, "month": 12, "date": 1, "utc": true}
        ],
        "labelFont": "Lato", "labelFontSize": 18, "labelColor": "#000000", "labelPadding": 21,
        "labelAlign": "center", "labelFlush": false, "labelOverlap": false, "labelBound": false
      }
    },
    "y": {
      "type": "quantitative",
      "scale": {"domain": [-10, 12], "nice": false, "zero": false},
      "axis": {
        "title": "Performance", "titleFont": "Lato", "titleFontSize": 20, "titleFontWeight": "normal", "titleColor": "#000000",
        "titleX": -77, "titleY": 377, "titleAngle": -90, "titleAlign": "center", "titleBaseline": "middle",
        "values": [-10, -8, -6, -4, -2, 0, 2, 4, 6, 8, 10, 12],
        "labelExpr": "datum.value + '%'",
        "grid": false, "domain": false, "ticks": false,
        "labelFont": "Lato", "labelFontSize": 18, "labelColor": "#000000", "labelPadding": 22
      }
    }
  }
}
